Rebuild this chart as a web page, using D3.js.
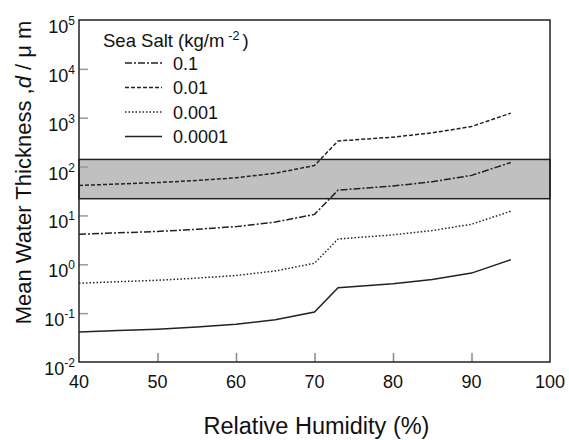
<!DOCTYPE html>
<html>
<head>
<meta charset="utf-8">
<script src="https://cdn.jsdelivr.net/npm/d3@7"></script>
<style>
  html, body { margin: 0; padding: 0; background: #fff; }
  svg { display: block; font-family: "Liberation Sans", Arial, Helvetica, sans-serif; }
</style>
</head>
<body>
<svg id="chart" width="569" height="440"></svg>
<script>
// ---------------- data ----------------
const relativeHumidity = [40, 45, 50, 55, 60, 65, 70, 73, 80, 85, 90, 95];
const seriesLabels = ["0.1", "0.01", "0.001", "0.0001"];
// values (µm)
const valuesDashDot = [4.1, 4.4, 4.7, 5.2, 5.9, 7.3, 10.5, 33, 40, 49, 66, 121];
const valuesDashed  = [41, 44, 47, 52, 59, 73, 105, 335, 400, 490, 660, 1240];
const valuesDotted  = [0.41, 0.44, 0.47, 0.52, 0.59, 0.73, 1.05, 3.3, 4.0, 4.9, 6.6, 12.2];
const valuesSolid   = [0.041, 0.044, 0.047, 0.052, 0.059, 0.073, 0.105, 0.33, 0.40, 0.49, 0.66, 1.24];
const xTickValues = [40, 50, 60, 70, 80, 90, 100];
const yTickExponents = [-2, -1, 0, 1, 2, 3, 4, 5];
const bandRange = [22, 140]; // shaded band (µm)

// ---------------- layout ----------------
const svg = d3.select("#chart");
const x = d3.scaleLinear().domain([40, 100]).range([79, 550]);
const y = d3.scaleLog().domain([1e-2, 1e5]).range([362, 20]);

const series = [
  { label: seriesLabels[0], values: valuesDashDot, dash: "7,2,2,2" },
  { label: seriesLabels[1], values: valuesDashed,  dash: "4,2" },
  { label: seriesLabels[2], values: valuesDotted,  dash: "1.5,2" },
  { label: seriesLabels[3], values: valuesSolid,   dash: null }
];

// shaded band
svg.append("rect")
  .attr("x", x(40)).attr("y", y(bandRange[1]))
  .attr("width", x(100) - x(40))
  .attr("height", y(bandRange[0]) - y(bandRange[1]))
  .attr("fill", "#c0c0c0")
  .attr("stroke", "#222").attr("stroke-width", 1.5);

// ticks (inner)
const gx = svg.append("g").attr("transform", `translate(0,${y(1e-2)})`)
  .call(d3.axisBottom(x).tickValues(xTickValues.slice(1, -1)).tickSize(-9).tickFormat(""));
gx.select(".domain").remove();
gx.selectAll(".tick line").attr("stroke", "#888").attr("stroke-width", 1.5);

const gy = svg.append("g").attr("transform", `translate(${x(40)},0)`)
  .call(d3.axisLeft(y).tickValues(yTickExponents.slice(1, -1).map(e => Math.pow(10, e))).tickSize(-9).tickFormat(""));
gy.select(".domain").remove();
gy.selectAll(".tick line").attr("stroke", "#999").attr("stroke-width", 1.5);

// frame
svg.append("rect")
  .attr("x", x(40)).attr("y", y(1e5))
  .attr("width", x(100) - x(40)).attr("height", y(1e-2) - y(1e5))
  .attr("fill", "none").attr("stroke", "#222").attr("stroke-width", 1.5);

// x tick labels
svg.append("g").selectAll("text").data(xTickValues).join("text")
  .attr("x", d => x(d)).attr("y", 388)
  .attr("text-anchor", "middle").attr("font-size", 18).attr("fill", "#111")
  .text(d => d);

// y tick labels 10^n
const yl = svg.append("g").selectAll("text").data(yTickExponents).join("text")
  .attr("x", 75).attr("y", e => y(Math.pow(10, e)) + 13)
  .attr("text-anchor", "end").attr("font-size", 18).attr("fill", "#111");
yl.append("tspan").text("10");
yl.append("tspan").attr("font-size", 12).attr("dy", -8).text(e => e < 0 ? "-" + Math.abs(e) : e);

// curves
const line = d3.line().x((d, i) => x(relativeHumidity[i])).y(d => y(d));
svg.append("g").selectAll("path").data(series).join("path")
  .attr("d", s => line(s.values))
  .attr("fill", "none").attr("stroke", "#222").attr("stroke-width", 1.5)
  .attr("stroke-dasharray", s => s.dash);

// legend
const lg = svg.append("g");
const lt = lg.append("text").attr("x", 103).attr("y", 47).attr("font-size", 18.5).attr("fill", "#111");
lt.append("tspan").text("Sea Salt (kg/m");
lt.append("tspan").attr("font-size", 12.5).attr("dy", -7).attr("dx", 4).text("-2");
lt.append("tspan").attr("dy", 7).attr("dx", 3).text(")");
series.forEach((s, i) => {
  const cy = 63 + i * 24.5;
  lg.append("line").attr("x1", 125).attr("x2", 162).attr("y1", cy).attr("y2", cy)
    .attr("stroke", "#222").attr("stroke-width", 1.5).attr("stroke-dasharray", s.dash);
  lg.append("text").attr("x", 173).attr("y", cy + 6.5).attr("font-size", 18).attr("fill", "#111").text(s.label);
});

// axis titles
svg.append("text").attr("x", 316.5).attr("y", 434).attr("text-anchor", "middle")
  .attr("font-size", 23.5).attr("fill", "#111").text("Relative Humidity (%)");
const yt = svg.append("text").attr("transform", "translate(31,172.5) rotate(-90)")
  .attr("text-anchor", "middle").attr("font-size", 22).attr("fill", "#111");
yt.append("tspan").text("Mean Water Thickness ,");
yt.append("tspan").attr("font-style", "italic").text("d");
yt.append("tspan").text(" / μ m");
</script>
</body>
</html>
